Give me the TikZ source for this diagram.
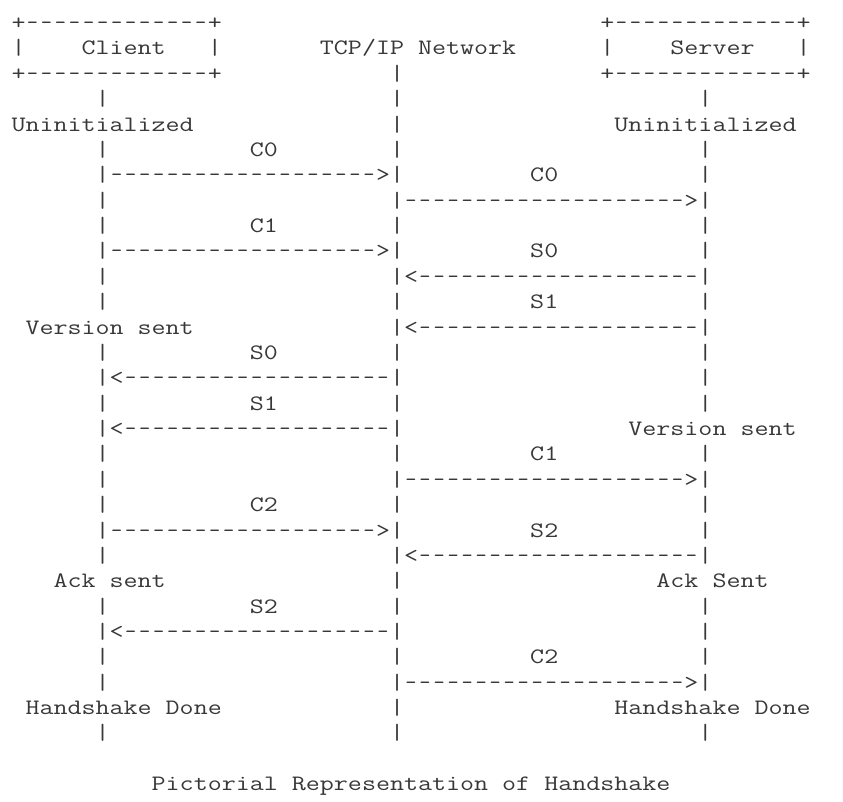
\documentclass[tikz,border=0pt]{standalone}
\usepackage{graphicx}
\newlength\asciicw
\newcommand\onedash{\makebox[\asciicw][c]{\scalebox{0.8}[1]{-}}}
\newcommand\dsh[1]{\foreach \k in {1,...,#1}{\onedash}}
\newcommand\rarr[1]{|\dsh{#1}>|}
\newcommand\larr[1]{|<\dsh{#1}|}
\newcommand\boxline{+\dsh{13}+}
\newcommand\asciifont{\ttfamily\fontsize{22}{24}\selectfont}
\AtBeginDocument{\settowidth{\asciicw}{\asciifont M}\pgfmathsetmacro\asciisx{14.02/\asciicw}\global\let\asciisx\asciisx}
% #1 name, #2 column, #3 line, #4 text
\newcommand\tline[4]{\node[ascii] (#1) at ({11.5+14.02*#2},{29.6+25.37*(#3-1)}) {\scalebox{\asciisx}[1]{#4}};}
\begin{document}
\begin{tikzpicture}[x=1pt,y=-1pt,
  ascii/.style={anchor=base west,inner sep=0pt,outer sep=0pt,font=\asciifont,text=black!78}]
\useasboundingbox[fill=white] (0,0) rectangle (843,801);
% line 1-3: boxes
\tline{cbt}{0}{1}{\boxline}
\tline{sbt}{42}{1}{\boxline}
\tline{cbl}{0}{2}{|}
\tline{client}{5}{2}{Client}
\tline{cbr}{14}{2}{|}
\tline{net}{22}{2}{TCP/IP Network}
\tline{sbl}{42}{2}{|}
\tline{server}{47}{2}{Server}
\tline{sbr}{56}{2}{|}
\tline{cbb}{0}{3}{\boxline}
\tline{n3}{27}{3}{|}
\tline{sbb}{42}{3}{\boxline}
% line 4
\tline{c4}{6}{4}{|}
\tline{n4}{27}{4}{|}
\tline{s4}{49}{4}{|}
% line 5
\tline{cuninit}{0}{5}{Uninitialized}
\tline{n5}{27}{5}{|}
\tline{suninit}{43}{5}{Uninitialized}
% line 6
\tline{c6}{6}{6}{|}
\tline{lc0}{17}{6}{C0}
\tline{n6}{27}{6}{|}
\tline{s6}{49}{6}{|}
% line 7
\tline{a7}{6}{7}{\rarr{19}}
\tline{rc0}{37}{7}{C0}
\tline{s7}{49}{7}{|}
% line 8
\tline{c8}{6}{8}{|}
\tline{a8}{27}{8}{\rarr{20}}
% line 9
\tline{c9}{6}{9}{|}
\tline{lc1}{17}{9}{C1}
\tline{n9}{27}{9}{|}
\tline{s9}{49}{9}{|}
% line 10
\tline{a10}{6}{10}{\rarr{19}}
\tline{rs0}{37}{10}{S0}
\tline{s10}{49}{10}{|}
% line 11
\tline{c11}{6}{11}{|}
\tline{a11}{27}{11}{\larr{20}}
% line 12
\tline{c12}{6}{12}{|}
\tline{n12}{27}{12}{|}
\tline{rs1}{37}{12}{S1}
\tline{s12}{49}{12}{|}
% line 13
\tline{cvers}{1}{13}{Version sent}
\tline{a13}{27}{13}{\larr{20}}
% line 14
\tline{c14}{6}{14}{|}
\tline{ls0}{17}{14}{S0}
\tline{n14}{27}{14}{|}
\tline{s14}{49}{14}{|}
% line 15
\tline{a15}{6}{15}{\larr{19}}
\tline{s15}{49}{15}{|}
% line 16
\tline{c16}{6}{16}{|}
\tline{ls1}{17}{16}{S1}
\tline{n16}{27}{16}{|}
\tline{s16}{49}{16}{|}
% line 17
\tline{a17}{6}{17}{\larr{19}}
\tline{svers}{44}{17}{Version sent}
% line 18
\tline{c18}{6}{18}{|}
\tline{n18}{27}{18}{|}
\tline{rc1}{37}{18}{C1}
\tline{s18}{49}{18}{|}
% line 19
\tline{c19}{6}{19}{|}
\tline{a19}{27}{19}{\rarr{20}}
% line 20
\tline{c20}{6}{20}{|}
\tline{lc2}{17}{20}{C2}
\tline{n20}{27}{20}{|}
\tline{s20}{49}{20}{|}
% line 21
\tline{a21}{6}{21}{\rarr{19}}
\tline{rs2}{37}{21}{S2}
\tline{s21}{49}{21}{|}
% line 22
\tline{c22}{6}{22}{|}
\tline{a22}{27}{22}{\larr{20}}
% line 23
\tline{cack}{3}{23}{Ack sent}
\tline{n23}{27}{23}{|}
\tline{sack}{46}{23}{Ack Sent}
% line 24
\tline{c24}{6}{24}{|}
\tline{ls2}{17}{24}{S2}
\tline{n24}{27}{24}{|}
\tline{s24}{49}{24}{|}
% line 25
\tline{a25}{6}{25}{\larr{19}}
\tline{s25}{49}{25}{|}
% line 26
\tline{c26}{6}{26}{|}
\tline{n26}{27}{26}{|}
\tline{rc2}{37}{26}{C2}
\tline{s26}{49}{26}{|}
% line 27
\tline{c27}{6}{27}{|}
\tline{a27}{27}{27}{\rarr{20}}
% line 28
\tline{cdone}{1}{28}{Handshake Done}
\tline{n28}{27}{28}{|}
\tline{sdone}{43}{28}{Handshake Done}
% line 29
\tline{c29}{6}{29}{|}
\tline{n29}{27}{29}{|}
\tline{s29}{49}{29}{|}
% caption
\tline{caption}{10}{31}{Pictorial Representation of Handshake}
\end{tikzpicture}
\end{document}
